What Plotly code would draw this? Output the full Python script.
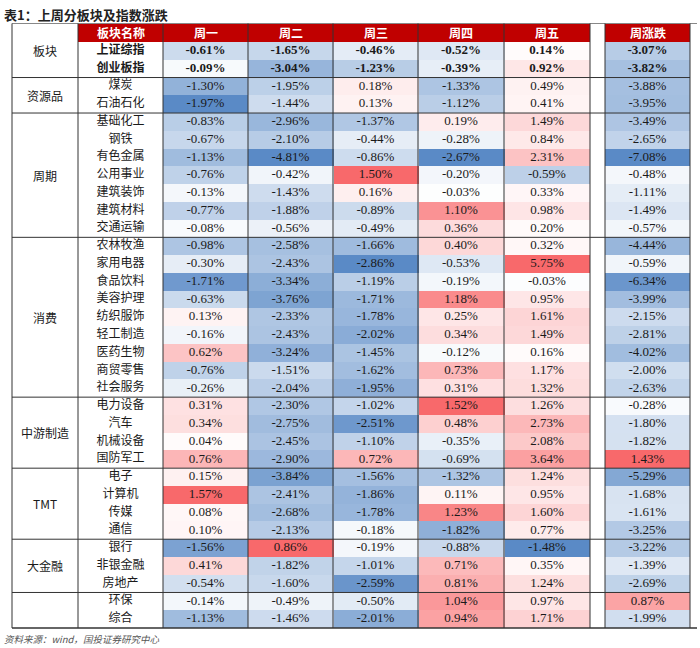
import plotly.graph_objects as go

title_text = "表1：上周分板块及指数涨跌"
source_text = "资料来源：wind，国投证券研究中心"
header_name = "板块名称"
day_labels = ["周一", "周二", "周三", "周四", "周五"]
week_label = "周涨跌"

groups = [("板块", 2), ("资源品", 2), ("周期", 7), ("消费", 9), ("中游制造", 4),
          ("TMT", 4), ("大金融", 3), ("", 2)]

names = ["上证综指", "创业板指", "煤炭", "石油石化",
         "基础化工", "钢铁", "有色金属", "公用事业", "建筑装饰", "建筑材料", "交通运输",
         "农林牧渔", "家用电器", "食品饮料", "美容护理", "纺织服饰", "轻工制造", "医药生物", "商贸零售", "社会服务",
         "电力设备", "汽车", "机械设备", "国防军工",
         "电子", "计算机", "传媒", "通信",
         "银行", "非银金融", "房地产",
         "环保", "综合"]

mon = [-0.61, -0.09, -1.30, -1.97, -0.83, -0.67, -1.13, -0.76, -0.13, -0.77, -0.08,
       -0.98, -0.30, -1.71, -0.63, 0.13, -0.16, 0.62, -0.76, -0.26,
       0.31, 0.34, 0.04, 0.76, 0.15, 1.57, 0.08, 0.10, -1.56, 0.41, -0.54, -0.14, -1.13]
tue = [-1.65, -3.04, -1.95, -1.44, -2.96, -2.10, -4.81, -0.42, -1.43, -1.88, -0.56,
       -2.58, -2.43, -3.34, -3.76, -2.33, -2.43, -3.24, -1.51, -2.04,
       -2.30, -2.75, -2.45, -2.90, -3.84, -2.41, -2.68, -2.13, 0.86, -1.82, -1.60, -0.49, -1.46]
wed = [-0.46, -1.23, 0.18, 0.13, -1.37, -0.44, -0.86, 1.50, 0.16, -0.89, -0.49,
       -1.66, -2.86, -1.19, -1.71, -1.78, -2.02, -1.45, -1.62, -1.95,
       -1.02, -2.51, -1.10, 0.72, -1.56, -1.86, -1.78, -0.18, -0.19, -1.01, -2.59, -0.50, -2.01]
thu = [-0.52, -0.39, -1.33, -1.12, 0.19, -0.28, -2.67, -0.20, -0.03, 1.10, 0.36,
       0.40, -0.53, -0.19, 1.18, 0.25, 0.34, -0.12, 0.73, 0.31,
       1.52, 0.48, -0.35, -0.69, -1.32, 0.11, 1.23, -1.82, -0.88, 0.71, 0.81, 1.04, 0.94]
fri = [0.14, 0.92, 0.49, 0.41, 1.49, 0.84, 2.31, -0.59, 0.33, 0.98, 0.20,
       0.32, 5.75, -0.03, 0.95, 1.61, 1.49, 0.16, 1.17, 1.32,
       1.26, 2.73, 2.08, 3.64, 1.24, 0.95, 1.60, 0.77, -1.48, 0.35, 1.24, 0.97, 1.71]
week = [-3.07, -3.82, -3.88, -3.95, -3.49, -2.65, -7.08, -0.48, -1.11, -1.49, -0.57,
        -4.44, -0.59, -6.34, -3.99, -2.15, -2.81, -4.02, -2.00, -2.63,
        -0.28, -1.80, -1.82, 1.43, -5.29, -1.68, -1.61, -3.25, -3.22, -1.39, -2.69, 0.87, -1.99]

bold_rows = 2

# ---- layout constants (pixel coordinates of the 700x648 figure) ----
W, H = 700, 648
x_left, x_grp, x_name = 12, 78, 163
day_edges = [163, 248, 333, 418, 504, 590]
week_edges = [605, 690]
y_top, y_head = 23.5, 42
n = len(names)
rh = (628 - y_head) / n
y_edges = [y_head + i * rh for i in range(n + 1)]
y_cent = [y_head + (i + 0.5) * rh for i in range(n)]

BLUE = "#5A8AC6"
RED = "#F8696B"
cscale = [[0, BLUE], [0.5, "#FFFFFF"], [1, RED]]


def norm(col):
    mx = max(col)
    mn = min(col)
    out = []
    for v in col:
        if v >= 0:
            out.append(v / mx if mx > 0 else 0)
        else:
            out.append(-v / mn if mn < 0 else 0)
    return out


day_cols = [mon, tue, wed, thu, fri]
day_norm = [norm(c) for c in day_cols]
z_days = [[day_norm[j][i] for j in range(5)] for i in range(n)]
wk_norm = norm(week)
z_week = [[wk_norm[i]] for i in range(n)]

fig = go.Figure()
fig.add_trace(go.Heatmap(x=day_edges, y=y_edges, z=z_days, colorscale=cscale,
                         zmin=-1, zmax=1, showscale=False, hoverinfo="skip"))
fig.add_trace(go.Heatmap(x=week_edges, y=y_edges, z=z_week, colorscale=cscale,
                         zmin=-1, zmax=1, showscale=False, hoverinfo="skip"))


def fmt(v, i):
    s = f"{v:.2f}%"
    return f"<b>{s}</b>" if i < bold_rows else s


num_font = dict(family="Liberation Serif, Times New Roman, serif", size=13, color="#1a1a1a")
cjk_font = dict(family="Noto Sans CJK SC", size=12, color="#1a1a1a")

for j, col in enumerate(day_cols):
    xc = (day_edges[j] + day_edges[j + 1]) / 2
    fig.add_trace(go.Scatter(x=[xc] * n, y=y_cent, mode="text",
                             text=[fmt(v, i) for i, v in enumerate(col)],
                             textfont=num_font, hoverinfo="skip", showlegend=False))
fig.add_trace(go.Scatter(x=[(week_edges[0] + week_edges[1]) / 2] * n, y=y_cent, mode="text",
                         text=[fmt(v, i) for i, v in enumerate(week)],
                         textfont=num_font, hoverinfo="skip", showlegend=False))
fig.add_trace(go.Scatter(x=[(x_grp + x_name) / 2] * n, y=y_cent, mode="text",
                         text=[f"<b>{s}</b>" if i < bold_rows else s for i, s in enumerate(names)],
                         textfont=cjk_font, hoverinfo="skip", showlegend=False))

shapes = []
line_c = "#333333"
shapes.append(dict(type="rect", x0=x_grp, x1=day_edges[-1], y0=y_top, y1=y_head,
                   fillcolor="#C00000", line_width=0, layer="below"))
shapes.append(dict(type="rect", x0=week_edges[0], x1=week_edges[1], y0=y_top, y1=y_head,
                   fillcolor="#C00000", line_width=0, layer="below"))
header_texts = [(header_name, (x_grp + x_name) / 2)] + \
    [(d, (day_edges[j] + day_edges[j + 1]) / 2) for j, d in enumerate(day_labels)] + \
    [(week_label, (week_edges[0] + week_edges[1]) / 2)]
annotations = []
for t, xc in header_texts:
    annotations.append(dict(x=xc, y=(y_top + y_head) / 2, text=f"<b>{t}</b>", showarrow=False,
                            font=dict(family="Noto Sans CJK SC", size=12, color="white"),
                            xref="x", yref="y"))

start = 0
sep_rows = []
for g, cnt in groups:
    top = y_edges[start] if start > 0 else y_top
    bot = y_edges[start + cnt]
    if g:
        annotations.append(dict(x=(x_left + x_grp) / 2, y=(top + bot) / 2, text=g, showarrow=False,
                                font=dict(family="Noto Sans CJK SC", size=12, color="#1a1a1a"),
                                xref="x", yref="y"))
    start += cnt
    sep_rows.append(start)

for r in sep_rows[:-1]:
    shapes.append(dict(type="line", x0=x_left, x1=week_edges[1], y0=y_edges[r], y1=y_edges[r],
                       line=dict(color=line_c, width=1)))
shapes.append(dict(type="line", x0=x_left, x1=697, y0=y_top, y1=y_top, line=dict(color="#888888", width=1)))
shapes.append(dict(type="line", x0=x_left, x1=697, y0=y_edges[-1], y1=y_edges[-1],
                   line=dict(color=line_c, width=1.5)))
for xv in [x_left, x_grp, x_name] + day_edges[1:] + week_edges:
    shapes.append(dict(type="line", x0=xv, x1=xv, y0=y_top, y1=y_edges[-1],
                       line=dict(color=line_c, width=1)))

annotations.append(dict(x=2, y=14, text=f"<b>{title_text}</b>", showarrow=False, xanchor="left",
                        font=dict(family="Noto Sans CJK SC", size=13, color="#222222"),
                        xref="x", yref="y"))
annotations.append(dict(x=2, y=639, text=f"<i>{source_text}</i>", showarrow=False, xanchor="left",
                        font=dict(family="Noto Sans CJK SC", size=9.5, color="#555555"),
                        xref="x", yref="y"))

fig.update_layout(
    width=W, height=H, margin=dict(l=0, r=0, t=0, b=0),
    paper_bgcolor="white", plot_bgcolor="white",
    xaxis=dict(range=[0, W], visible=False, fixedrange=True),
    yaxis=dict(range=[H, 0], visible=False, fixedrange=True),
    shapes=shapes, annotations=annotations, showlegend=False,
)
fig.write_html("out.html", config={"displayModeBar": False},
               post_script="document.body.style.margin='0px';document.body.style.overflow='hidden';")
